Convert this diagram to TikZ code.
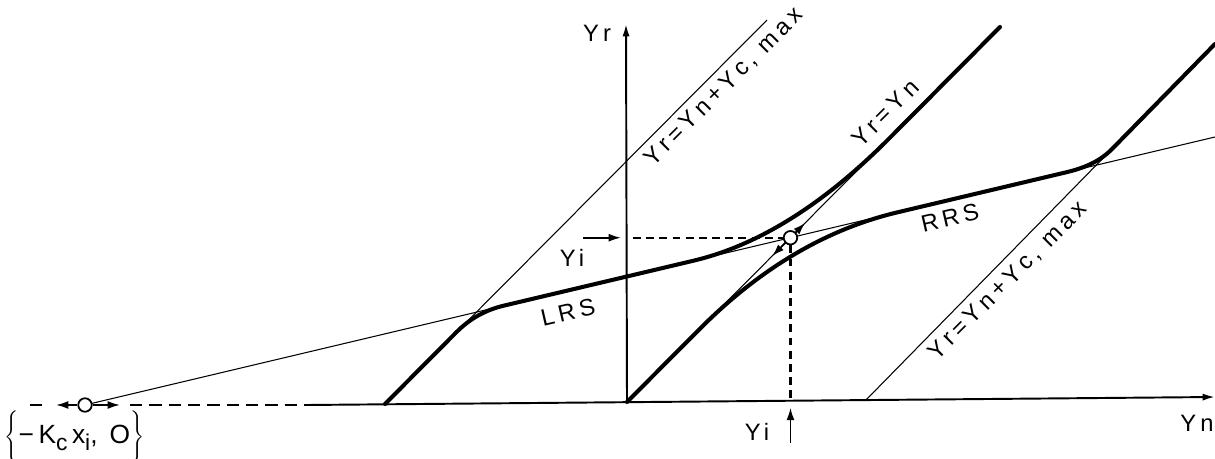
\documentclass[tikz,border=0pt]{standalone}
\usepackage{fontspec}
\setmainfont{Liberation Sans}[LetterSpace=18]
\usetikzlibrary{arrows.meta,calc}
\begin{document}
\begin{tikzpicture}[x=0.02cm,y=-0.02cm,
  thinline/.style={line width=0.6pt},
  thickcurve/.style={line width=2.3pt,line join=round,line cap=round},
  axisline/.style={line width=1.1pt},
  dashline/.style={line width=1.4pt,dash pattern=on 7pt off 4pt},
  shortdash/.style={line width=1.2pt,dash pattern=on 4.5pt off 3pt},
  tip/.style={line width=1pt,-{Latex[length=7pt,width=4.5pt]}},
  lbl/.style={font=\fontsize{13.5}{15}\selectfont, inner sep=0pt},
  ring/.style={circle,draw,fill=white,line width=1pt,minimum size=0.27cm,inner sep=0pt}]
\useasboundingbox (0,0) rectangle (1215,459);

% reference points of the straight lines
\coordinate (L1a) at (385,404);
\coordinate (L1b) at (767,20);
\coordinate (L0a) at (627,402);
\coordinate (L0b) at (1000,27);
\coordinate (L2a) at (866,400);
\coordinate (L2b) at (1215,44);
\coordinate (Ta) at (85,405);
\coordinate (Tb) at (1215,137);
\coordinate (K1) at (intersection of L1a--L1b and Ta--Tb);
\coordinate (C) at (intersection of L0a--L0b and Ta--Tb);
\coordinate (K2) at (intersection of L2a--L2b and Ta--Tb);

% axes
\coordinate (Xs) at (307,405);
\coordinate (Xe) at (1215,397);
\coordinate (Ytop) at (626,24);
\coordinate (D1) at (30,405);
\coordinate (D2) at (43,405);
\coordinate (D3) at (130,405);
\draw[axisline,-{Latex[length=7pt,width=4pt]}] (Xs) -- (Xe);
\draw[axisline,-{Latex[length=7pt,width=4pt]}] (L0a) -- (Ytop);
\draw[dashline] (D3) -- (Xs);
\draw[dashline] (D1) -- (D2);

% thin straight lines
\draw[thinline] (L1a) -- (L1b);
\draw[thinline] (L0a) -- (L0b);
\draw[thinline] (L2a) -- (L2b);
\draw[thinline] (Ta) -- (Tb);

% thick curves
\coordinate (A1) at ($(K1)!0.56cm!(L1a)$);
\coordinate (A2) at ($(K1)!0.56cm!(Tb)$);
\coordinate (A3) at ($(C)!2.0cm!(Ta)$);
\coordinate (A4) at ($(C)!2.8cm!(L0b)$);
\coordinate (B1) at ($(C)!2.6cm!(L0a)$);
\coordinate (B2) at ($(C)!2.2cm!(Tb)$);
\coordinate (B3) at ($(K2)!0.6cm!(Ta)$);
\coordinate (B4) at ($(K2)!0.44cm!(L2b)$);
\draw[thickcurve] (L1a) -- (A1)
  .. controls ($(A1)!0.667!(K1)$) and ($(A2)!0.667!(K1)$) .. (A2) -- (A3)
  .. controls ($(A3)!0.667!(C)$) and ($(A4)!0.667!(C)$) .. (A4) -- (L0b);
\draw[thickcurve] (L0a) -- (B1)
  .. controls ($(B1)!0.667!(C)$) and ($(B2)!0.667!(C)$) .. (B2) -- (B3)
  .. controls ($(B3)!0.667!(K2)$) and ($(B4)!0.667!(K2)$) .. (B4) -- (L2b);

% dashed construction lines at the operating point
\coordinate (Hs) at ($(C -| L0a)+(6,0)$);
\coordinate (Ha) at ($(C -| L0a)+(-44,0)$);
\coordinate (Hb) at ($(C -| L0a)+(-6,0)$);
\coordinate (Vb) at ($(C)+(0,162)$);
\coordinate (Ba) at ($(C)+(0,205)$);
\coordinate (Bb) at ($(C)+(0,170)$);
\node[ring] (P1) at (C) {};
\draw[shortdash] (Hs) -- (P1.west);
\draw[shortdash] (P1.south) -- (Vb);
\draw[tip] (Ha) -- (Hb);
\draw[tip] (Ba) -- (Bb);
\coordinate (U1) at ($(C)!0.14cm!(L0b)$);
\coordinate (U2) at ($(C)!0.42cm!(L0b)$);
\coordinate (W1) at ($(C)!0.14cm!(L0a)$);
\coordinate (W2) at ($(C)!0.52cm!(L0a)$);
\draw[tip] (U1) -- (U2);
\draw[tip] (W1) -- (W2);

% left point
\node[ring] (P0) at (Ta) {};
\coordinate (E1) at (56,405);
\coordinate (E2) at (120,405);
\draw[tip] (P0.west) -- (E1);
\draw[tip] (P0.east) -- (E2);

% labels
\node[lbl] (yr) at (597,33) {Yr};
\node[lbl] (yi1) at (572,258) {Yi};
\node[lbl] (yi2) at (757,432) {Yi};
\node[lbl,anchor=east] (yn) at (1214,423) {Yn};
\node[lbl,rotate=13] (lrs) at (568,312) {LRS};
\node[lbl,rotate=13] (rrs) at (950,218) {RRS};
\node[lbl,rotate=45] (eq1) at (724,87) {Yr=Yn+Yc, max};
\node[lbl,rotate=45] (eq2) at (885,113) {Yr=Yn};
\node[lbl,rotate=45] (eq3) at (1008,281) {Yr=Yn+Yc, max};
\node[lbl,anchor=west,font=\fontsize{15}{17}\selectfont] (kc) at (4,437) {$\Bigg\{$−K\raisebox{-0.5ex}{\fontsize{13}{15}\selectfont c}\,x\raisebox{-0.5ex}{\fontsize{13}{15}\selectfont i}, O$\Bigg\}$};
\end{tikzpicture}
\end{document}
